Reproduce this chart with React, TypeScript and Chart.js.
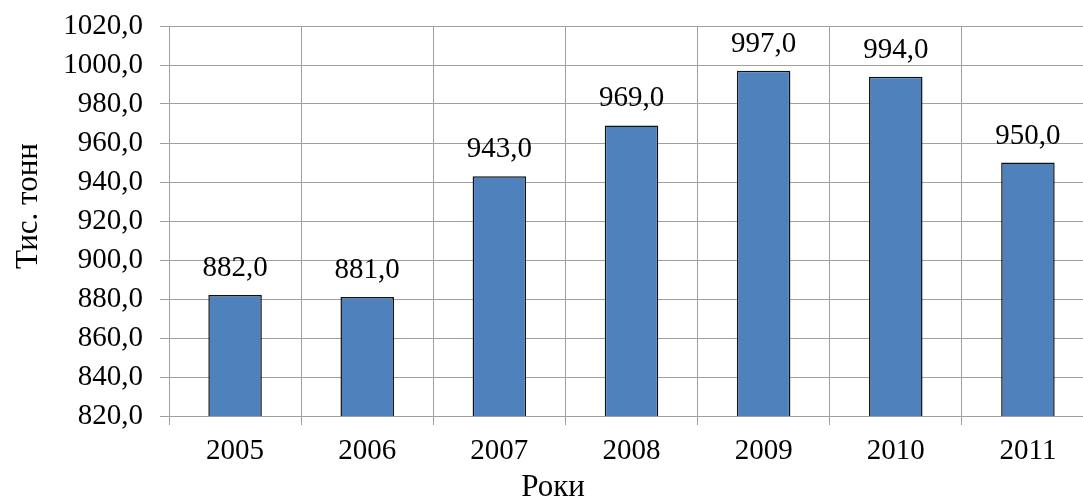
import React, { useEffect, useRef } from "react";
import { Chart, registerables } from "chart.js";

Chart.register(...registerables);

const years = ["2005", "2006", "2007", "2008", "2009", "2010", "2011"];
const values = [882, 881, 943, 969, 997, 994, 950];
const yMin = 820;
const yMax = 1020;
const yStep = 20;
const yTitle = "Тис. тонн";
const xTitle = "Роки";

const FONT = "'Liberation Serif', 'Times New Roman', serif";
const GRID = "#a0a0a0";

const fmt = (v: number) => v.toFixed(1).replace(".", ",");

const labelsPlugin = {
  id: "barLabels",
  afterDatasetsDraw(chart: any) {
    const ctx = chart.ctx;
    const meta = chart.getDatasetMeta(0);
    ctx.save();
    ctx.font = `29px ${FONT}`;
    ctx.fillStyle = "#000";
    ctx.textAlign = "center";
    ctx.textBaseline = "alphabetic";
    meta.data.forEach((bar: any, i: number) => {
      ctx.fillText(fmt(values[i]), bar.x, bar.y - 19);
    });
    ctx.restore();
  },
};

const titlesPlugin = {
  id: "axisTitles",
  afterDraw(chart: any) {
    const ctx = chart.ctx;
    const area = chart.chartArea;
    ctx.save();
    ctx.font = `31px ${FONT}`;
    ctx.fillStyle = "#000";
    ctx.textAlign = "center";
    ctx.textBaseline = "alphabetic";
    ctx.fillText(xTitle, 553, chart.height - 1);
    ctx.translate(37, (area.top + area.bottom) / 2 - 15);
    ctx.rotate(-Math.PI / 2);
    ctx.fillText(yTitle, 0, 0);
    ctx.restore();
  },
};

export default function App() {
  const ref = useRef<HTMLCanvasElement | null>(null);

  useEffect(() => {
    if (!ref.current) return;
    const chart = new Chart(ref.current, {
      type: "bar",
      data: {
        labels: years,
        datasets: [
          {
            data: values,
            backgroundColor: "#4F81BD",
            borderColor: "#111111",
            borderWidth: 1.5,
            barPercentage: 0.405,
            categoryPercentage: 1,
          },
        ],
      },
      options: {
        responsive: false,
        animation: false,
        layout: { padding: { top: 26, right: 2, left: 0, bottom: 0 } },
        plugins: {
          legend: { display: false },
          tooltip: { enabled: false },
        },
        scales: {
          x: {
            afterFit: (scale: any) => {
              scale.height = 81;
              scale.paddingLeft = 0;
              scale.paddingRight = 0;
            },
            grid: {
              color: GRID,
              lineWidth: 1,
              offset: true,
              tickLength: 9,
            },
            border: { color: GRID, width: 1 },
            ticks: {
              color: "#000",
              padding: 9,
              font: { family: FONT, size: 29 },
              maxRotation: 0,
            },
          },
          y: {
            min: yMin,
            max: yMax,
            afterFit: (scale: any) => {
              scale.width = 169;
              scale.paddingTop = 0;
              scale.paddingBottom = 0;
            },
            grid: { color: GRID, lineWidth: 1, tickLength: 9 },
            border: { color: GRID, width: 1 },
            ticks: {
              stepSize: yStep,
              color: "#000",
              padding: 17,
              font: { family: FONT, size: 29 },
              callback: (v: any) => fmt(Number(v)),
            },
          },
        },
      },
      plugins: [labelsPlugin, titlesPlugin],
    });
    return () => chart.destroy();
  }, []);

  return (
    <div
      style={{
        position: "absolute",
        left: 0,
        top: 0,
        width: 1083,
        height: 497,
        overflow: "hidden",
        background: "#fff",
      }}
    >
      <canvas ref={ref} width={1096} height={497} style={{ display: "block" }} />
    </div>
  );
}
